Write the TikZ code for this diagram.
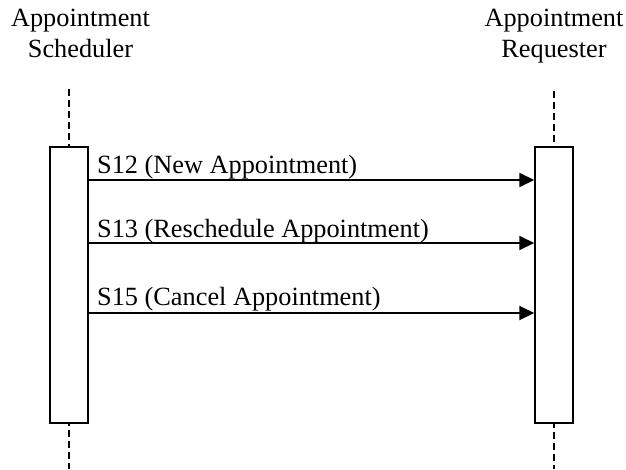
\documentclass[tikz,border=0pt]{standalone}
\usepackage{fontspec}
\setmainfont{Liberation Serif}
\usetikzlibrary{arrows.meta}
\begin{document}
\begin{tikzpicture}[x=1pt,y=-1pt,
  every node/.style={font=\fontsize{26.3}{30.5}\selectfont},
  actbox/.style={draw,line width=1.5pt,minimum width=38pt,minimum height=276pt,inner sep=0pt,fill=white},
  title/.style={align=center,inner sep=0pt},
  life/.style={line width=1.5pt,dash pattern=on 7pt off 4pt},
  msg/.style={line width=2pt,-{Triangle[length=15pt,width=14pt]}},
  lbl/.style={anchor=base west,inner sep=0pt}]
\useasboundingbox (0,0) rectangle (626,469);
\node[title,anchor=north] (tl) at (80.5,9) {Appointment\\Scheduler};
\node[title,anchor=north] (tr) at (554,9) {Appointment\\Requester};
\coordinate (ltop) at (69,89);
\coordinate (lbot) at (69,469);
\coordinate (rtop) at (554,91);
\coordinate (rbot) at (554,469);
\draw[life] (ltop) -- (lbot);
\draw[life] (rtop) -- (rbot);
\node[actbox] (lbox) at (69,285) {};
\node[actbox] (rbox) at (554,285) {};
\draw[msg] (lbox.east |- 0,180) -- (rbox.west |- 0,180);
\draw[msg] (lbox.east |- 0,243) -- (rbox.west |- 0,243);
\draw[msg] (lbox.east |- 0,313) -- (rbox.west |- 0,313);
\node[lbl] (m1) at (97,173) {S12 (New Appointment)};
\node[lbl] (m2) at (97,237) {S13 (Reschedule Appointment)};
\node[lbl] (m3) at (97,305) {S15 (Cancel Appointment)};
\end{tikzpicture}
\end{document}
